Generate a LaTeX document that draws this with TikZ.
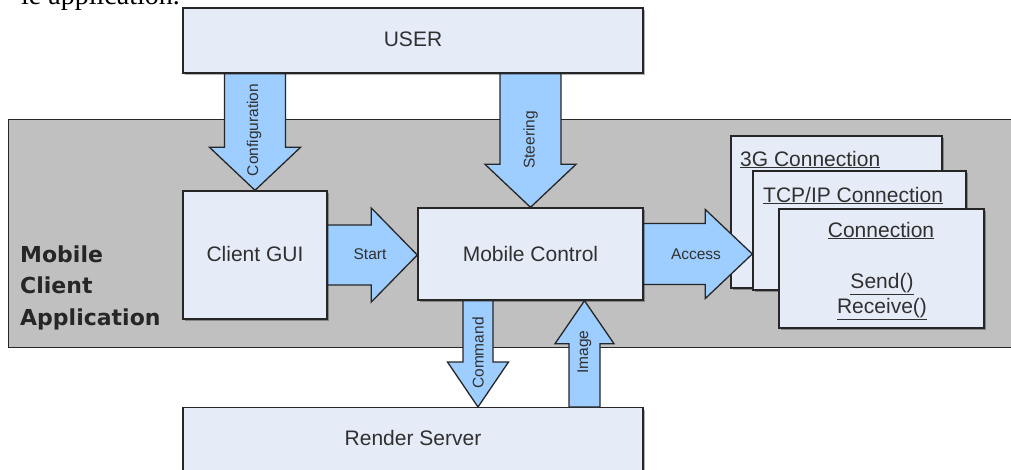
\documentclass[tikz,border=0pt]{standalone}
\usepackage{fontspec}
\setmainfont{Liberation Sans}
\newfontfamily\docserif{Liberation Serif}
\newfontfamily\widebold{DejaVu Sans}
\usetikzlibrary{calc,shadows}
\definecolor{boxfill}{RGB}{230,236,247}
\definecolor{bandfill}{RGB}{192,192,192}
\definecolor{arrowfill}{RGB}{158,205,255}
\definecolor{linec}{RGB}{38,38,38}
\definecolor{textc}{RGB}{48,48,48}
\tikzset{
  box/.style={draw=linec, line width=1.4pt, fill=boxfill, inner sep=0pt,
    drop shadow={shadow xshift=1.8pt, shadow yshift=-1.8pt, fill=black, opacity=0.3}},
  txt/.style={text=textc, font=\fontsize{21}{25}\selectfont, inner sep=0pt},
  small/.style={text=textc, font=\fontsize{15.5}{18}\selectfont, inner sep=0pt},
  barrow/.style={draw=linec, line width=1.3pt, fill=arrowfill, line join=miter},
}
% #1 start, #2 tip, #3 shaft half width, #4 head half width, #5 head length, #6 name
\newcommand\blockarrow[6]{%
  \coordinate (#6-h) at ($(#2)!#5!(#1)$);
  \draw[barrow] ($(#1)!#3!90:(#2)$) -- ($(#6-h)!#3!90:(#2)$) -- ($(#6-h)!#4!90:(#2)$)
    -- (#2) -- ($(#6-h)!#4!-90:(#2)$) -- ($(#6-h)!#3!-90:(#2)$) -- ($(#1)!#3!-90:(#2)$) -- cycle;
}
\begin{document}
\begin{tikzpicture}[x=1pt, y=-1pt]
\clip (0,0) rectangle (1011,469);
\fill[white] (0,0) rectangle (1011,469);
% cropped line of surrounding text
\node[anchor=base east, inner sep=0pt, font=\docserif\fontsize{28}{28}\selectfont] (doctext) at (180,4) {le application.};
% application band
\node[draw=linec, line width=1.4pt, fill=bandfill, minimum width=1020, minimum height=228, anchor=north west, inner sep=0pt] (app) at (8,118.5) {};
\node[anchor=base west, align=left, text=linec, inner sep=0pt,
  font=\widebold\bfseries\fontsize{22}{31.5}\selectfont] (applabel) at (20,325) {Mobile\\Client\\Application};
% boxes
\node[box, minimum width=460, minimum height=65] (user) at (413,40.5) {};
\node[txt] (usertxt) at (413,39.5) {USER};
\node[box, minimum width=144, minimum height=128] (gui) at (255,255) {};
\node[txt] (guitxt) at (255,253.5) {Client GUI};
\node[box, minimum width=225, minimum height=92] (ctrl) at (530.5,254) {};
\node[txt] (ctrltxt) at (530.5,253.5) {Mobile Control};
\node[box, minimum width=460, minimum height=80, anchor=north] (render) at (413,407) {};
\node[txt] (rendertxt) at (413,438) {Render Server};
% connection stack
\node[box, minimum width=211, minimum height=152] (g3) at (836.5,212) {};
\node[txt, anchor=base west] (g3txt) at (740,166) {\underline{3G Connection}};
\node[box, minimum width=213, minimum height=119] (tcp) at (859.5,230.5) {};
\node[txt, anchor=base west] (tcptxt) at (763,202) {\underline{TCP/IP Connection}};
\node[box, minimum width=205, minimum height=119] (conn) at (881.5,268.5) {};
\node[txt, anchor=base] (conntxt) at (881,237) {\underline{Connection}};
\node[txt, anchor=base] (sendtxt) at (882,288) {\underline{Send()}};
\node[txt, anchor=base] (recvtxt) at (882,313) {\underline{Receive()}};
% block arrows
\coordinate (cfgS) at (gui.north |- user.south);
\blockarrow{cfgS}{gui.north}{30.5pt}{45.5pt}{43pt}{cfg}
\coordinate (steS) at (ctrl.north |- user.south);
\blockarrow{steS}{ctrl.north}{30.5pt}{45.5pt}{43pt}{ste}
\coordinate (staT) at (gui.east -| ctrl.west);
\blockarrow{gui.east}{staT}{30pt}{47pt}{46pt}{sta}
\coordinate (accT) at (ctrl.east -| tcp.west);
\blockarrow{ctrl.east}{accT}{30.5pt}{44.5pt}{47pt}{acc}
\coordinate (cmdS) at ([xshift=-52.5pt]ctrl.south);
\coordinate (cmdT) at (cmdS |- render.north);
\blockarrow{cmdS}{cmdT}{15pt}{30.5pt}{45pt}{cmd}
\coordinate (imgT) at ([xshift=54pt]ctrl.south);
\coordinate (imgS) at (imgT |- render.north);
\blockarrow{imgS}{imgT}{15.5pt}{29.5pt}{43pt}{img}
% arrow labels
\node[small, rotate=90] (cfglab) at (254,130) {Configuration};
\node[small, rotate=90] (stelab) at (530.5,140) {Steering};
\node[small] (stalab) at (370,254) {Start};
\node[small] (acclab) at (696,254) {Access};
\node[small, rotate=90] (cmdlab) at (478,353) {Command};
\node[small, rotate=90] (imglab) at (584.5,352) {Image};
\end{tikzpicture}
\end{document}
